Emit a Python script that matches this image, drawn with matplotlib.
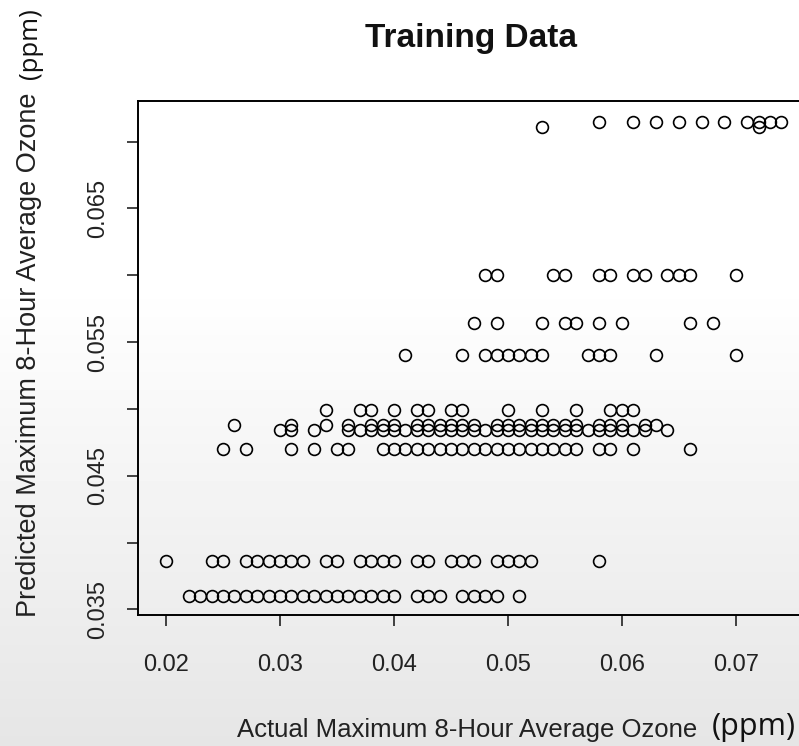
import numpy as np
import matplotlib
matplotlib.use('Agg')
import matplotlib.pyplot as plt

# Datos (valores reales en milésimas de ppm, por nivel predicho)
pred_levels = [0.0360, 0.0386, 0.0470, 0.0484, 0.0488, 0.0499, 0.0540, 0.0564, 0.0600, 0.0711, 0.0715]

act_0360 = list(range(22, 41)) + [42, 43, 44, 46, 47, 48, 49, 51]
act_0386 = [20, 24, 25, 27, 28, 29, 30, 31, 32, 34, 35, 37, 38, 39, 40, 42, 43, 45, 46, 47, 49, 50, 51, 52, 58]
act_0470 = [25, 27, 31, 33, 35, 36] + list(range(39, 57)) + [58, 59, 61, 66]
act_0484 = [30, 31, 33] + list(range(36, 63)) + [64]
act_0488 = [26, 31, 34, 36, 38, 39, 40, 42, 43, 44, 45, 46, 47, 49, 50, 51, 52, 53, 54, 55, 56, 58, 59, 60, 62, 63]
act_0499 = [34, 37, 38, 40, 42, 43, 45, 46, 50, 53, 56, 59, 60, 61]
act_0540 = [41, 46, 48, 49, 50, 51, 52, 53, 57, 58, 59, 63, 70]
act_0564 = [47, 49, 53, 55, 56, 58, 60, 66, 68]
act_0600 = [48, 49, 54, 55, 58, 59, 61, 62, 64, 65, 66, 70]
act_0711 = [53, 72]
act_0715 = [58, 61, 63, 65, 67, 69, 71, 72, 73, 74]

rows = [act_0360, act_0386, act_0470, act_0484, act_0488, act_0499,
        act_0540, act_0564, act_0600, act_0711, act_0715]

actual = np.concatenate([np.array(r) / 1000.0 for r in rows])
predicted = np.concatenate([np.full(len(r), p) for r, p in zip(rows, pred_levels)])

xticks = [0.02, 0.03, 0.04, 0.05, 0.06, 0.07]
xtick_labels = ['0.02', '0.03', '0.04', '0.05', '0.06', '0.07']
yticks = [0.035, 0.040, 0.045, 0.050, 0.055, 0.060, 0.065, 0.070]
ytick_labels = ['0.035', '', '0.045', '', '0.055', '', '0.065', '']

W, H = 799, 746
fig = plt.figure(figsize=(W / 100, H / 100), dpi=100)

# fondo degradado (blanco arriba, gris claro abajo)
bg = fig.add_axes([0, 0, 1, 1], zorder=-10)
rows_px = np.arange(H)
shade = np.where(rows_px < 280, 1.0, 1.0 - 0.10 * (rows_px - 280) / (H - 280))
bg.imshow(shade[:, None], cmap='gray', vmin=0, vmax=1, aspect='auto', extent=[0, 1, 0, 1])
bg.axis('off')

# ejes en píxeles: izq 138, der 806 (fuera de la imagen), arriba 101, abajo 615
left, right, top, bottom = 138, 806, 101, 615
ax = fig.add_axes([left / W, 1 - bottom / H, (right - left) / W, (bottom - top) / H])
ax.patch.set_alpha(0)

ax.plot(actual, predicted, 'o', mfc='none', mec='black', ms=8.5, mew=1.2)

ax.set_xlim(0.01754, 0.07616)
ax.set_ylim(0.03458, 0.07304)

ax.set_xticks(xticks)
ax.set_xticklabels(xtick_labels)
ax.set_yticks(yticks)
ax.set_yticklabels(ytick_labels, rotation=90, va='center')

for s in ax.spines.values():
    s.set_linewidth(1.4)
ax.tick_params(direction='out', length=8, width=1.2, labelsize=17, colors='#222222')
ax.tick_params(axis='x', pad=20)
ax.tick_params(axis='y', pad=13)
for lab in ax.get_xticklabels() + ax.get_yticklabels():
    lab.set_family('Liberation Sans')

# títulos y etiquetas
fig.text(471 / W, 1 - 39 / H, 'Training Data', ha='center', va='center',
         fontsize=24, fontweight='bold', family='Liberation Sans', color='#111111')

fig.text(237 / W, 1 - 730 / H, 'Actual Maximum 8-Hour Average Ozone', ha='left', va='center',
         fontsize=18.5, family='Liberation Sans', color='#222222')
fig.text(712 / W, 1 - 727 / H, '(ppm)', ha='left', va='center',
         fontsize=22, family='Open Sans', color='#111111')

fig.text(29 / W, 1 - 617 / H, 'Predicted Maximum 8-Hour Average Ozone', ha='center', va='bottom',
         rotation=90, fontsize=19.5, family='Liberation Sans', color='#222222')
fig.text(31 / W, 1 - 79 / H, '(ppm)', ha='center', va='bottom',
         rotation=90, fontsize=18.5, family='Open Sans', color='#111111')

fig.savefig('out.png', dpi=100)
